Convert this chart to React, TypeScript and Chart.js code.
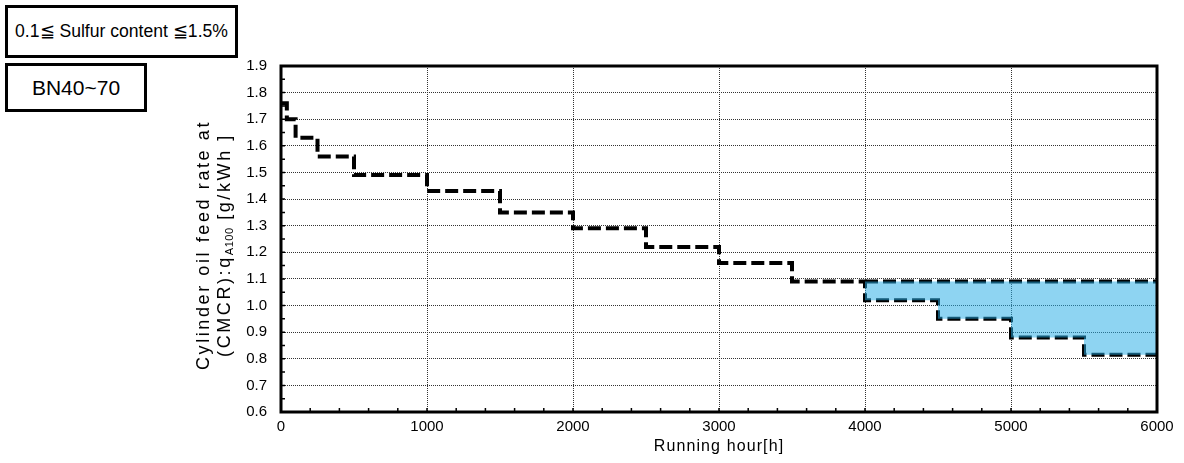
import React, { useEffect, useRef } from "react";
import { Chart, registerables } from "chart.js";

Chart.register(...registerables);

// ---- data ----
const hoursMain = [0, 40, 100, 250, 500, 1000, 1500, 2000, 2500, 3000, 3500, 4000, 4500, 5000, 5500, 6000];
const rateMain = [1.76, 1.7, 1.63, 1.56, 1.49, 1.43, 1.35, 1.29, 1.22, 1.16, 1.09, 1.02, 0.95, 0.88, 0.815, 0.815];
const hoursRange = [4000, 4500, 5000, 5500, 6000];
const rateUpper = [1.09, 1.09, 1.09, 1.09, 1.09];
const rateLower = [1.02, 0.95, 0.88, 0.815, 0.815];
const xMin = 0;
const xMax = 6000;
const xStep = 1000;
const xMinorStep = 200;
const yMin = 0.6;
const yMax = 1.9;
const yStep = 0.1;
const yMinorStep = 0.05;

const FONT = "'Liberation Sans', Arial, sans-serif";

const pts = (xs: number[], ys: number[]) => xs.map((x, i) => ({ x, y: ys[i] }));

const framePlugin = {
  id: "frameTicks",
  afterDatasetsDraw(chart: any) {
    const { ctx, chartArea, scales } = chart;
    const { left, right, top, bottom } = chartArea;
    const x = scales.x;
    const y = scales.y;
    ctx.save();
    ctx.strokeStyle = "#000";
    ctx.lineWidth = 1.5;
    ctx.beginPath();
    const nY = Math.round((yMax - yMin) / yMinorStep);
    for (let i = 0; i <= nY; i++) {
      const py = y.getPixelForValue(yMin + i * yMinorStep);
      ctx.moveTo(left, py);
      ctx.lineTo(left + 4, py);
    }
    for (let h = xMin; h <= xMax; h += xMinorStep) {
      const px = x.getPixelForValue(h);
      ctx.moveTo(px, bottom);
      ctx.lineTo(px, bottom - 4);
    }
    ctx.stroke();
    ctx.lineWidth = 3;
    ctx.strokeRect(left, top, right - left, bottom - top);
    ctx.restore();
  },
};

export default function App() {
  const ref = useRef<HTMLCanvasElement | null>(null);

  useEffect(() => {
    if (!ref.current) return;
    const dash = [13, 5];
    const chart = new Chart(ref.current, {
      type: "line",
      data: {
        datasets: [
          {
            label: "upper",
            data: pts(hoursRange, rateUpper),
            stepped: true,
            borderWidth: 0,
            borderColor: "rgba(0,0,0,0)",
            pointRadius: 0,
            fill: 1,
            backgroundColor: "rgba(38,173,231,0.52)",
            order: 0,
          },
          {
            label: "lower",
            data: pts(hoursRange, rateLower),
            stepped: true,
            borderWidth: 0,
            borderColor: "rgba(0,0,0,0)",
            pointRadius: 0,
            fill: false,
            order: 1,
          },
          {
            label: "main",
            data: pts(hoursMain, rateMain),
            stepped: true,
            borderColor: "#000",
            borderWidth: 4,
            borderDash: dash,
            borderCapStyle: "butt",
            pointRadius: 0,
            fill: false,
            order: 2,
          },
          {
            label: "upperLine",
            data: pts([hoursRange[0], hoursRange[hoursRange.length - 1]], [rateUpper[0], rateUpper[rateUpper.length - 1]]),
            stepped: true,
            borderColor: "#000",
            borderWidth: 4,
            borderDash: dash,
            borderCapStyle: "butt",
            pointRadius: 0,
            fill: false,
            order: 3,
          },
        ],
      },
      options: {
        animation: false,
        responsive: false,
        layout: { padding: { left: 0, right: 27, top: 66, bottom: 0 } },
        plugins: {
          legend: { display: false },
          tooltip: { enabled: false },
        },
        scales: {
          x: {
            type: "linear",
            min: xMin,
            max: xMax,
            afterFit: (s: any) => {
              s.height = 51;
            },
            ticks: {
              stepSize: xStep,
              padding: 6,
              color: "#000",
              font: { family: FONT, size: 15 },
              maxRotation: 0,
              callback: (v: any) => String(Math.round(Number(v))),
            },
            grid: { color: "#333", lineWidth: 1, drawTicks: false },
            border: { display: false, dash: [1, 1] },
          },
          y: {
            type: "linear",
            min: yMin,
            max: yMax,
            afterFit: (s: any) => {
              s.width = 281;
            },
            ticks: {
              stepSize: yStep,
              padding: 14,
              color: "#000",
              font: { family: FONT, size: 15 },
              callback: (v: any) => Number(v).toFixed(1),
            },
            grid: { color: "#333", lineWidth: 1, drawTicks: false },
            border: { display: false, dash: [1, 1] },
          },
        },
      },
      plugins: [framePlugin],
    } as any);
    return () => chart.destroy();
  }, []);

  const box: React.CSSProperties = {
    position: "absolute",
    border: "3px solid #000",
    boxSizing: "border-box",
    display: "flex",
    alignItems: "center",
    justifyContent: "center",
    fontFamily: FONT,
    color: "#000",
    background: "#fff",
    whiteSpace: "nowrap",
  };

  return (
    <div style={{ position: "absolute", left: 0, top: 0, width: 1184, height: 463, background: "#fff", overflow: "hidden" }}>
      <canvas ref={ref} width={1184} height={463} style={{ position: "absolute", left: 0, top: 0, width: 1184, height: 463 }} />
      <div style={{ ...box, left: 5, top: 5, width: 233, height: 53, fontSize: 17.6 }}>0.1≦ Sulfur content ≦1.5%</div>
      <div style={{ ...box, left: 5, top: 63, width: 142, height: 49, fontSize: 21 }}>BN40~70</div>
      <div
        style={{
          position: "absolute",
          left: 213.5 - 170,
          top: 245 - 21,
          width: 340,
          height: 42,
          lineHeight: "21px",
          transform: "rotate(-90deg)",
          transformOrigin: "50% 50%",
          textAlign: "center",
          fontFamily: FONT,
          fontSize: 18,
          letterSpacing: 2.6,
          color: "#000",
          whiteSpace: "nowrap",
        }}
      >
        <div>Cylinder oil feed rate at</div>
        <div>
          (CMCR):q<sub style={{ fontSize: 11, verticalAlign: "-3px", lineHeight: 0, letterSpacing: 0.5 }}>A100</sub> [g/kWh ]
        </div>
      </div>
      <div
        style={{
          position: "absolute",
          left: 719 - 150,
          top: 436,
          width: 300,
          height: 20,
          lineHeight: "20px",
          textAlign: "center",
          fontFamily: FONT,
          fontSize: 16,
          letterSpacing: 1.1,
          color: "#000",
          whiteSpace: "nowrap",
        }}
      >
        Running hour[h]
      </div>
    </div>
  );
}
